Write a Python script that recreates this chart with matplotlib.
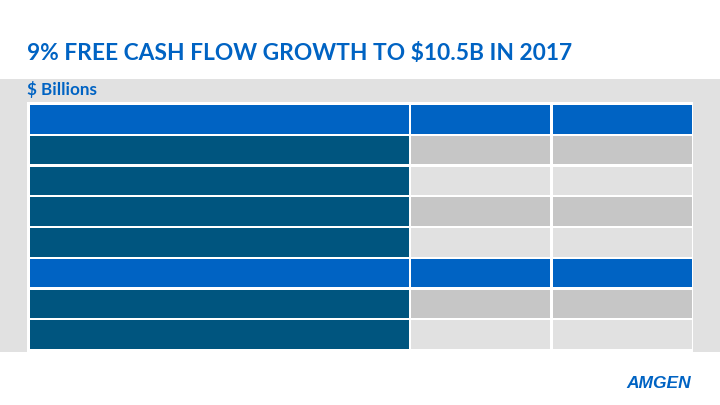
import matplotlib.pyplot as plt

# table content (the slide shows empty cells)
row_kinds = ['header', 'odd', 'even', 'odd', 'even', 'header', 'odd', 'even']
col_names = ['label', 'y2016', 'y2017']
col_widths = [379, 139, 139]   # px, layout
gap = 2.3

title = '9% FREE CASH FLOW GROWTH TO $10.5B IN 2017'
subtitle = '$ Billions'

blue = '#0063C3'
teal = '#00557F'
gray_dark = '#C6C6C6'
gray_light = '#E1E1E1'
band = '#E1E1E1'


def cell_color(kind, col):
    if kind == 'header':
        return blue
    if col == 0:
        return teal
    return gray_dark if kind == 'odd' else gray_light


fig = plt.figure(figsize=(7.2, 4.05), dpi=100)
fig.patch.set_facecolor('white')

# gray band behind the table
bg = fig.add_axes([0, 1 - 352 / 405, 1, (352 - 79) / 405])
bg.set_facecolor(band)
bg.set_xticks([])
bg.set_yticks([])
for s in bg.spines.values():
    s.set_visible(False)

fig.text(27 / 720, 1 - 54 / 405, title, fontsize=16.4, fontweight='bold',
         family=['Lato', 'DejaVu Sans'], color=blue, va='center', ha='left')
fig.text(27 / 720, 1 - 90 / 405, subtitle, fontsize=12.3, fontweight='bold',
         family=['Lato', 'DejaVu Sans'], color=blue, va='center', ha='left')

# table
x0, x1 = 27, 693
y0, y1 = 102, 352
ax = fig.add_axes([x0 / 720, 1 - y1 / 405, (x1 - x0) / 720, (y1 - y0) / 405])
ax.set_facecolor('white')
ax.set_xlim(0, x1 - x0)
n = len(row_kinds)
ax.set_ylim(n - 0.5 + 0.06, -0.5 - 0.06)
ax.set_xticks([])
ax.set_yticks([])
for s in ax.spines.values():
    s.set_visible(False)

left = 3
for c, name in enumerate(col_names):
    w = col_widths[c]
    colors = [cell_color(k, c) for k in row_kinds]
    ax.barh(range(n), w, left=left, height=0.93, color=colors, linewidth=0)
    left += w + gap

fig.text(691 / 720, 1 - 383 / 405, 'AMGEN', fontsize=12.5, fontweight='heavy',
         style='italic', family=['Liberation Sans', 'DejaVu Sans'],
         color=blue, va='center', ha='right')

fig.savefig('out.png', dpi=100)
